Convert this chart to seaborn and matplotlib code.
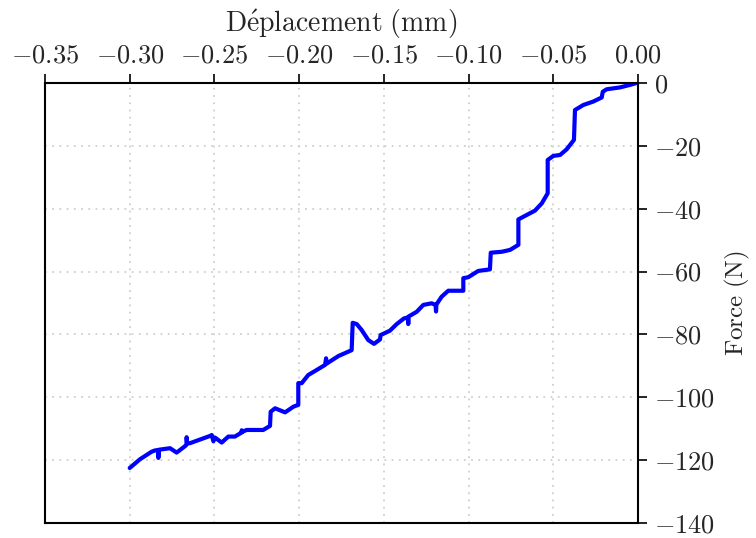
import numpy as np
import pandas as pd
import matplotlib
matplotlib.use("Agg")
import matplotlib.pyplot as plt
import seaborn as sns

deplacement = [
    -0.3000, -0.2939, -0.2870, -0.2850, -0.2831, -0.2831, -0.2829, -0.2762, -0.2723,
    -0.2670, -0.2664, -0.2664, -0.2662, -0.2644, -0.2526, -0.2516, -0.2506, -0.2497,
    -0.2457, -0.2418, -0.2379, -0.2339, -0.2339, -0.2336, -0.2310, -0.2212, -0.2172,
    -0.2168, -0.2142, -0.2083, -0.2034, -0.2005, -0.2005, -0.1985, -0.1946, -0.1896,
    -0.1847, -0.1841, -0.1838, -0.1769, -0.1690, -0.1684, -0.1660, -0.1631, -0.1592,
    -0.1558, -0.1523, -0.1519, -0.1464, -0.1424, -0.1381, -0.1358, -0.1356, -0.1354,
    -0.1306, -0.1267, -0.1218, -0.1195, -0.1192, -0.1190, -0.1159, -0.1120, -0.1031,
    -0.1031, -0.1002, -0.0943, -0.0874, -0.0869, -0.0804, -0.0755, -0.0706, -0.0706,
    -0.0657, -0.0608, -0.0568, -0.0533, -0.0533, -0.0500, -0.0460, -0.0421, -0.0378,
    -0.0372, -0.0323, -0.0264, -0.0214, -0.0208, -0.0185, -0.0106, -0.0047, -0.0008,
]
force = [
    -122.5, -119.7, -117.3, -116.9, -116.8, -119.3, -116.7, -116.2, -117.6,
    -115.4, -115.0, -112.7, -114.6, -114.6, -112.3, -112.0, -114.0, -112.8,
    -114.4, -112.5, -112.5, -111.2, -110.5, -111.0, -110.4, -110.4, -109.1,
    -104.6, -103.5, -104.8, -103.0, -102.4, -95.5, -95.5, -92.9, -91.3,
    -89.7, -87.6, -89.3, -86.9, -85.0, -76.3, -76.7, -78.6, -81.8,
    -83.0, -81.6, -80.2, -78.8, -76.7, -74.9, -74.6, -76.7, -74.3,
    -72.8, -70.6, -70.1, -70.6, -72.7, -70.5, -68.0, -66.1, -66.1,
    -62.1, -61.8, -59.8, -59.3, -54.0, -53.7, -53.1, -51.5, -43.4,
    -42.0, -40.6, -38.3, -35.1, -24.5, -23.2, -22.9, -21.1, -18.1,
    -8.6, -7.0, -5.9, -4.6, -2.8, -2.0, -1.4, -0.6, 0.0,
]
x_ticks = [-0.35, -0.30, -0.25, -0.20, -0.15, -0.10, -0.05, 0.00]
y_ticks = [0, -20, -40, -60, -80, -100, -120, -140]

sns.set_style("white")
plt.rcParams["font.family"] = ["cmr10", "DejaVu Serif"]
plt.rcParams["mathtext.fontset"] = "cm"
plt.rcParams["axes.formatter.use_mathtext"] = True
plt.rcParams["axes.unicode_minus"] = True

df = pd.DataFrame({"x": deplacement, "y": force})

fig = plt.figure(figsize=(7.56, 5.38), dpi=100)
ax = fig.add_axes([45/756, 1-523/538, (638-45)/756, (523-83)/538])

sns.lineplot(data=df, x="x", y="y", sort=False, estimator=None, ax=ax,
             color="#0000FF", linewidth=3.0)

ax.set_xlim(-0.35, 0.0)
ax.set_ylim(-140, 0)
ax.set_xticks(x_ticks)
ax.set_yticks(y_ticks)
ax.set_xticklabels([r"$-%.2f$" % abs(v) if v < 0 else r"$%.2f$" % v for v in x_ticks])
ax.set_yticklabels([r"$-%d$" % abs(v) if v < 0 else r"$%d$" % v for v in y_ticks])

ax.xaxis.tick_top()
ax.xaxis.set_label_position("top")
ax.yaxis.tick_right()
ax.yaxis.set_label_position("right")
ax.tick_params(axis="both", direction="out", length=6.5, width=1.2, labelsize=19,
               color="black", pad=5)
ax.tick_params(axis="both", which="both", bottom=False, left=False)

ax.grid(True, linestyle=(0, (1, 3)), color="#cfcfcf", linewidth=1.3)
for s in ax.spines.values():
    s.set_color("black")
    s.set_linewidth(1.5)

ax.set_xlabel(r"$\mathrm{D\acute{e}placement\ (mm)}$", fontsize=20, labelpad=8)
ax.set_ylabel(r"$\mathrm{Force\ (N)}$", fontsize=18, labelpad=6)

fig.savefig("out.png", dpi=100)
